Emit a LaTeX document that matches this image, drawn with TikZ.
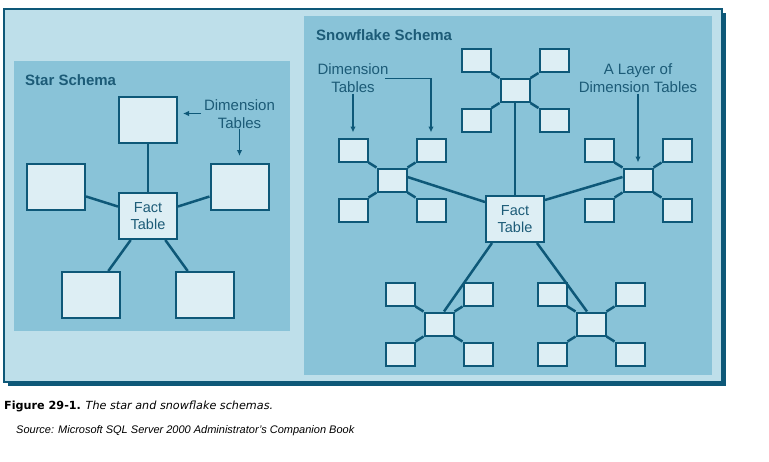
\documentclass[tikz,border=0pt]{standalone}
\usepackage{fontspec}
\setmainfont{Liberation Sans}
\newfontfamily\capfont{DejaVu Sans}
\usetikzlibrary{arrows.meta}
\definecolor{frameL}{HTML}{BEDFEA}
\definecolor{panel}{HTML}{89C3D8}
\definecolor{boxF}{HTML}{DDEEF4}
\definecolor{ink}{HTML}{0E5878}
\definecolor{txt}{HTML}{1C5B77}
\tikzset{
  bigbox/.style={draw=ink, fill=boxF, line width=2pt, minimum width=58pt, minimum height=46pt, inner sep=0pt, font=\fontsize{14.5}{17.5}\selectfont, text=txt, align=center},
  sbox/.style={draw=ink, fill=boxF, line width=2pt, minimum width=29pt, minimum height=23pt, inner sep=0pt},
  conn/.style={draw=ink, line width=2.5pt},
  arr/.style={draw=ink, line width=1.6pt, -{Latex[length=6pt,width=5.5pt]}},
  lbl/.style={text=txt, font=\fontsize{15}{18}\selectfont, align=center, inner sep=0pt},
  ttl/.style={text=txt, font=\fontsize{15}{17}\selectfont\bfseries, inner sep=0pt, anchor=west}
}
\newcommand\flakeset[3]{%
  \node[sbox] (#1) at (#2,#3) {};
  \node[sbox] (#1tl) at (#2-39,#3-30) {};
  \node[sbox] (#1tr) at (#2+39,#3-30) {};
  \node[sbox] (#1bl) at (#2-39,#3+30) {};
  \node[sbox] (#1br) at (#2+39,#3+30) {};
  \draw[conn] (#1tl.south east) -- (#1.north west);
  \draw[conn] (#1tr.south west) -- (#1.north east);
  \draw[conn] (#1bl.north east) -- (#1.south west);
  \draw[conn] (#1br.north west) -- (#1.south east);
}
\begin{document}
\begin{tikzpicture}[x=1pt,y=-1pt]
\useasboundingbox (0,0) rectangle (769,461);
% frame
\fill[ink] (8,13) rectangle (726,386);
\draw[ink, fill=frameL, line width=1.5pt] (4,9) rectangle (722,382);
\fill[panel] (14,61) rectangle (290,331);
\fill[panel] (304,16) rectangle (712,375);
% ---------- Star schema ----------
\node[ttl] (sttl) at (25,80) {Star Schema};
\node[bigbox] (stop) at (148,120) {};
\node[bigbox] (sl) at (56,187) {};
\node[bigbox] (sr) at (239.5,187) {};
\node[bigbox] (sfact) at (148,216) {Fact\\Table};
\node[bigbox] (sbl) at (91,295) {};
\node[bigbox] (sbr) at (205,295) {};
\draw[conn] (stop) -- (sfact);
\draw[conn] (sl) -- (sfact);
\draw[conn] (sr) -- (sfact);
\draw[conn] (sbl) -- (sfact);
\draw[conn] (sbr) -- (sfact);
\node[lbl] (sdim) at (239.5,114) {Dimension\\Tables};
\coordinate (sa1) at (183,113.5);
\coordinate (sa1s) at (201,113.5);
\draw[arr] (sa1s) -- (sa1);
\draw[arr] (sdim.south) -- ([yshift=7pt]sr.north);
% ---------- Snowflake schema ----------
\node[ttl] (fttl) at (316,35) {Snowflake Schema};
\node[bigbox] (ffact) at (515,219) {Fact\\Table};
\flakeset{t}{515}{90.5}
\flakeset{l}{392}{180}
\flakeset{r}{638}{180}
\flakeset{b}{439}{324}
\flakeset{c}{591}{324}
\draw[conn] (t.south) -- (ffact.north);
\draw[conn] ([yshift=3pt]l.east) -- ([yshift=17pt]ffact.west);
\draw[conn] ([yshift=19pt]ffact.east) -- ([yshift=3pt]r.west);
\draw[conn] ([xshift=7pt]ffact.south west) -- ([xshift=5pt]b.north);
\draw[conn] ([xshift=-8pt]ffact.south east) -- ([xshift=-4pt]c.north);
\node[lbl] (fdim) at (353,78) {Dimension\\Tables};
\coordinate (fa2s) at (385,78.5);
\draw[arr] ([yshift=-1pt]fdim.south) -- ([yshift=5pt]ltl.north);
\draw[arr] (fa2s) -| ([yshift=5pt]ltr.north);
\node[lbl] (ldim) at (638,78) {A Layer of\\Dimension Tables};
\draw[arr] ([yshift=-1pt]ldim.south) -- ([yshift=5pt]r.north);
% ---------- caption ----------
\node[anchor=base west, inner sep=0pt, font=\capfont\fontsize{11.2}{13}\selectfont] (cap) at (4,409.5) {\textbf{Figure 29-1.} \textit{The star and snowflake schemas.}};
\node[anchor=base west, inner sep=0pt, font=\fontsize{11}{13}\selectfont\itshape] (src) at (16,433) {Source: Microsoft SQL Server 2000 Administrator's Companion Book};
\end{tikzpicture}
\end{document}
